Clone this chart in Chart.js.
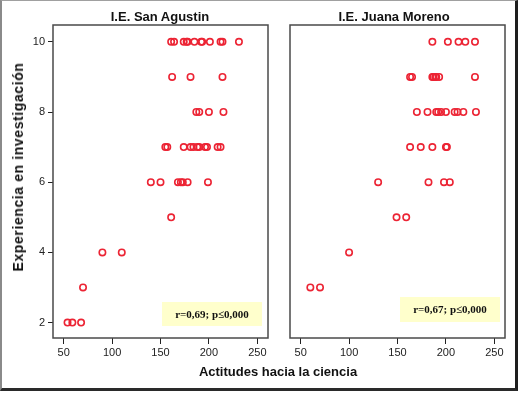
<!DOCTYPE html>
<html>
<head>
<meta charset="utf-8">
<script src="https://cdn.jsdelivr.net/npm/chart.js@4.4.0/dist/chart.umd.min.js"></script>
<style>
  html, body { margin:0; padding:0; background:#fff; }
  #wrap { position:relative; width:519px; height:393px; background:#fff; overflow:hidden; }
  #frame { position:absolute; left:0; top:0; width:518px; height:391px; box-sizing:border-box;
           border-left:2px solid #8a8a8a; border-top:1px solid #a0a0a0; border-right:3px solid #1e1e1e; border-bottom:3px solid #2a2a2a; }
  canvas { position:absolute; top:0; }
  .t { position:absolute; font-family:"Liberation Sans", Arial, sans-serif; color:#111; white-space:nowrap; }
  #t1 { left:160px; top:9px; transform:translateX(-50%); font-size:13px; font-weight:bold; }
  #t2 { left:394px; top:9px; transform:translateX(-50%); font-size:13px; font-weight:bold; }
  #xt { left:278px; top:364px; transform:translateX(-50%); font-size:13px; font-weight:bold; }
  #yt { left:18px; top:167px; transform:translate(-50%,-50%) rotate(-90deg); font-size:14px; font-weight:bold; letter-spacing:0.6px; }
</style>
</head>
<body>
<div id="wrap">
  <div id="frame"></div>
  <canvas id="c1" width="278" height="393" style="left:0;width:278px;height:393px"></canvas>
  <canvas id="c2" width="239" height="393" style="left:280px;width:239px;height:393px"></canvas>
  <div class="t" id="t1">I.E. San Agustin</div>
  <div class="t" id="t2">I.E. Juana Moreno</div>
  <div class="t" id="xt">Actitudes hacia la ciencia</div>
  <div class="t" id="yt">Experiencia en investigación</div>
</div>
<script>
// ---- data ----
const xTicks = [50, 100, 150, 200, 250];
const yTicks = [2, 4, 6, 8, 10];

const sanAgustinX = [161,164,174,177,178,185,192,193,201,212,214,231,
                     162,181,214,
                     187,190,200,215,
                     155,157,174,181,184,188,190,196,198,209,212,
                     140,150,168,171,173,178,199,
                     161,
                     90,110,
                     70,
                     54,59,68];
const sanAgustinY = [10,10,10,10,10,10,10,10,10,10,10,10,
                     9,9,9,
                     8,8,8,8,
                     7,7,7,7,7,7,7,7,7,7,7,
                     6,6,6,6,6,6,6,
                     5,
                     4,4,
                     3,
                     2,2,2];

const juanaMorenoX = [186,202,213,220,230,
                      163,165,186,187,189,190,193,230,
                      170,181,190,192,195,200,209,212,218,231,
                      163,174,186,200,201,
                      130,182,198,204,
                      149,159,
                      100,
                      60,70];
const juanaMorenoY = [10,10,10,10,10,
                      9,9,9,9,9,9,9,9,
                      8,8,8,8,8,8,8,8,8,8,
                      7,7,7,7,7,
                      6,6,6,6,
                      5,5,
                      4,
                      3,3];

const statLabels = ["r=0,69; p\u22640,000", "r=0,67; p\u22640,000"];

// ---- helpers ----
function pts(xs, ys) { return xs.map((x, i) => ({ x: x, y: ys[i] })); }

const boxPlugin = {
  id: 'panelBox',
  afterDraw(chart, args, opts) {
    const ctx = chart.ctx, a = chart.chartArea;
    ctx.save();
    const bx = a.left + opts.bx, by = a.top + opts.by;
    ctx.fillStyle = '#ffffcc';
    ctx.fillRect(bx, by, opts.bw, opts.bh);
    ctx.fillStyle = '#111';
    ctx.font = 'bold 11px "Liberation Serif", "Times New Roman", serif';
    ctx.textAlign = 'center';
    ctx.textBaseline = 'middle';
    ctx.fillText(opts.text, bx + opts.bw / 2, by + opts.bh / 2 + 1);
    ctx.strokeStyle = '#4a4a4a';
    ctx.lineWidth = 1.5;
    ctx.strokeRect(a.left, a.top, a.right - a.left, a.bottom - a.top);
    ctx.restore();
  }
};

function makeChart(id, data, showY, pad, stat) {
  return new Chart(document.getElementById(id), {
    type: 'scatter',
    data: {
      datasets: [{
        data: data,
        pointStyle: 'circle',
        pointRadius: 3.2,
        pointBorderWidth: 1.6,
        pointBorderColor: 'rgb(236,36,52)',
        pointBackgroundColor: 'rgba(0,0,0,0)',
        showLine: false
      }]
    },
    options: {
      responsive: false,
      animation: false,
      events: [],
      layout: { padding: pad },
      plugins: {
        legend: { display: false },
        tooltip: { enabled: false },
        panelBox: stat
      },
      scales: {
        x: {
          type: 'linear',
          min: 39, max: 261,
          afterBuildTicks: s => { s.ticks = xTicks.map(v => ({ value: v })); },
          afterFit: s => { s.height = 55; },
          border: { display: false },
          grid: { display: true, drawOnChartArea: false, drawTicks: true, tickLength: 6, tickColor: '#222', lineWidth: 1 },
          ticks: { color: '#222', padding: 2, font: { family: '"Liberation Sans", Arial, sans-serif', size: 11 } }
        },
        y: {
          type: 'linear',
          display: showY,
          min: 1.56, max: 10.48,
          afterBuildTicks: s => { s.ticks = yTicks.map(v => ({ value: v })); },
          afterFit: s => { s.width = showY ? 53 : 0; },
          border: { display: false },
          grid: { display: true, drawOnChartArea: false, drawTicks: true, tickLength: 5, tickColor: '#222', lineWidth: 1 },
          ticks: { color: '#222', padding: 3, font: { family: '"Liberation Sans", Arial, sans-serif', size: 11 } }
        }
      }
    },
    plugins: [boxPlugin]
  });
}

makeChart('c1', pts(sanAgustinX, sanAgustinY), true,
  { top: 25, right: 10, left: 0, bottom: 0 },
  { text: statLabels[0], bx: 109, by: 277, bw: 100, bh: 24 });
makeChart('c2', pts(juanaMorenoX, juanaMorenoY), false,
  { top: 25, right: 14, left: 10, bottom: 0 },
  { text: statLabels[1], bx: 110, by: 272, bw: 100, bh: 25 });
</script>
</body>
</html>
